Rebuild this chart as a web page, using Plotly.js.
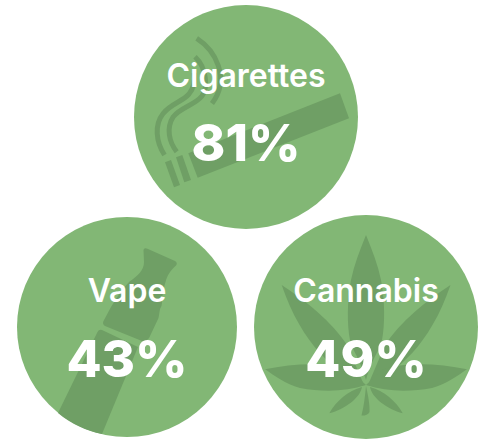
<!DOCTYPE html>
<html><head><meta charset="utf-8">
<script src="https://cdn.plot.ly/plotly-3.0.1.min.js"></script>
<style>html,body{margin:0;padding:0;background:#fff}#c{width:484px;height:440px}</style>
</head><body><div id="c"></div>
<script>
const categories = ['Cigarettes','Vape','Cannabis'];
const values = [81,43,49];
const centerX = [246,127,366];
const centerY = [117,327,327];
const radius = [112,110,112];
const labelY = [79,294,294];
const valueY = [148,364,364];
const BG='#82b775', DK='#6f9f65';
const fillPath=(d)=>({type:'path',path:d,xref:'x',yref:'y',fillcolor:DK,line:{width:0},layer:'below'});
const strokePath=(d)=>({type:'path',path:d,xref:'x',yref:'y',line:{color:DK,width:5},layer:'below'});
const shapes=categories.map((c,i)=>({type:'circle',xref:'x',yref:'y',x0:centerX[i]-radius[i],x1:centerX[i]+radius[i],y0:centerY[i]-radius[i],y1:centerY[i]+radius[i],fillcolor:BG,line:{width:0},layer:'below'}));
// cigarette
shapes.push(fillPath('M188.3,153.3 L340,93.3 L349,118.3 L197.7,177.7 Z'));
shapes.push(fillPath('M165,162.3 L171,160 L180,185 L174,187.3 Z'));
shapes.push(fillPath('M176,157.3 L182.3,155 L191,180 L184.3,182.3 Z'));
shapes.push(strokePath('M164.5,155 C156,142 154,125 163.3,113.3 C172,103 182,102 189,94 C194,88 195,80 194,73'));
shapes.push(strokePath('M176.7,151.7 C169,142 166,128 173.3,116.7 C181,107 195,105 202,96 C208,88 207,68 195,56.7'));
shapes.push(strokePath('M196.7,38.3 C215,50 231,78 212,103.5'));
// vape
shapes.push(fillPath('M143.5,250 Q144,247 148,249 L175,261 Q178,263 176,265.5 C170,271 167,276 165.5,282 C163,290 162,298 162,303 Q162,306 160,309 L158.5,318 L150.5,335 Q148,342 142,341 L105,326 Q102,324 103.5,321 L111,307 C117,297 123,288 129.3,281.7 C138,276 144,270 144,262 Z'));
shapes.push(fillPath('M97.5,332 Q99,329 102,330 L138,347 L102,434 C87,431 71,424 58,413 Z'));
// cannabis
shapes.push(fillPath('M366,235 C372,250 378,265 381,280 C385,300 385,325 382,340 C379,352 372,358 366,380 C360,358 353,352 350,340 C347,325 347,300 351,280 C354,265 360,250 366,235 Z'));
shapes.push(fillPath('M281.7,285 C305,300 332,322 347,345 L364,385 C335,372 302,345 281.7,285 Z'));
shapes.push(fillPath('M450.5,285 C427,300 400,322 385,345 L368,385 C397,372 430,345 450.5,285 Z'));
shapes.push(fillPath('M265,369.3 C295,363 330,362 350,370 L366,385 C345,392 322,392 300,388 C285,384 275,376 265,369.3 Z'));
shapes.push(fillPath('M467,369.3 C437,363 402,362 382,370 L366,385 C387,392 410,392 432,388 C447,384 457,376 467,369.3 Z'));
shapes.push(fillPath('M329.3,413.3 C336,401 348,391 362,387 C360,398 345,409 329.3,413.3 Z'));
shapes.push(fillPath('M402.7,413.3 C396,401 384,391 370,387 C372,398 387,409 402.7,413.3 Z'));
shapes.push(fillPath('M366,386 C368,395 370,405 369.5,412 C368,415 364,416 361.5,415.5 C364,406 365,396 366,386 Z'));

const labels={x:centerX,y:labelY,text:categories,mode:'text',type:'scatter',textposition:'middle center',cliponaxis:false,hoverinfo:'skip',textfont:{family:'Inter, sans-serif',size:32,color:'#ffffff',weight:600}};
const nums={x:centerX,y:valueY,text:values.map(v=>v+'%'),mode:'text',type:'scatter',textposition:'middle center',cliponaxis:false,hoverinfo:'skip',textfont:{family:'Inter, sans-serif',size:51,color:'#ffffff',weight:800}};
Plotly.newPlot('c',[labels,nums],{width:484,height:440,margin:{l:0,r:0,t:0,b:0},showlegend:false,paper_bgcolor:'#fff',plot_bgcolor:'#fff',
 xaxis:{range:[0,484],visible:false,fixedrange:true},yaxis:{range:[440,0],visible:false,fixedrange:true},shapes:shapes},{displayModeBar:false,staticPlot:true});
</script></body></html>
